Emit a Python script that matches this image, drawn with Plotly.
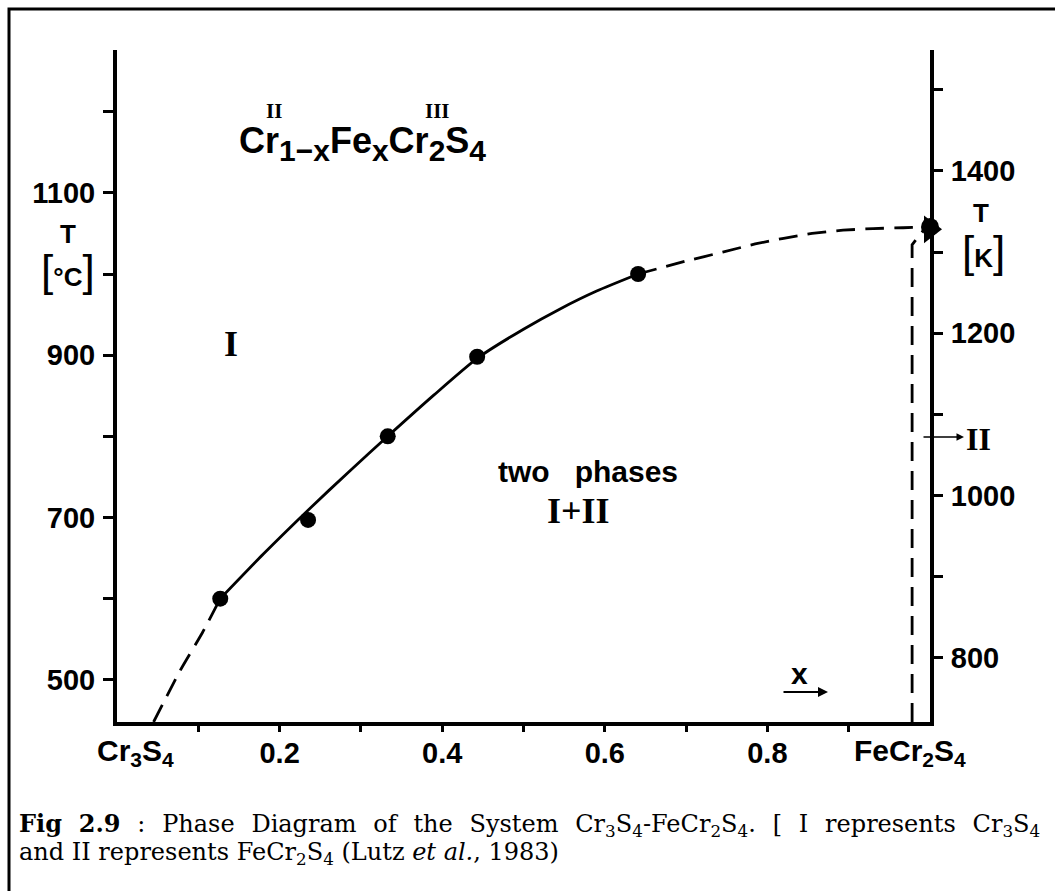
import plotly.graph_objects as go

# ---------------- data ----------------
# measured points: composition x vs temperature (deg C)
pts_x = [0.127, 0.235, 0.333, 0.443, 0.641]
pts_T = [600, 697, 800, 898, 1000]

# end-member transition point (FeCr2S4)
end_x = [1.0]
end_T = [1058]

# solid boundary curve through the measurements
solid_x = [0.127, 0.18, 0.235, 0.287, 0.333, 0.39, 0.443, 0.5, 0.545, 0.59, 0.641]
solid_T = [600, 655, 709, 758, 800, 851, 896, 932, 957, 979, 1000]

# dashed extrapolations
low_dash_x = [0.045, 0.078, 0.105, 0.127]
low_dash_T = [448, 512, 558, 600]
up_dash_x = [0.641, 0.70, 0.745, 0.785, 0.82, 0.855, 0.893, 0.93, 0.967, 1.0]
up_dash_T = [1000, 1016, 1027, 1037, 1044, 1050, 1054, 1056, 1057, 1058]
vert_dash_x = [0.978, 0.978, 0.992]
vert_dash_T = [448, 1036, 1054]

# axes / ticks
x_range = [0, 1]
x_tick_vals = [0.2, 0.4, 0.6, 0.8]
x_tick_text = ["0.2", "0.4", "0.6", "0.8"]
x_minor = [0.1, 0.3, 0.5, 0.7, 0.9]
C_range = [448, 1276]
C_ticks = [500, 700, 900, 1100]
C_minor = [600, 800, 1000, 1200]
K_offset = 273
K_ticks = [800, 1000, 1200, 1400]
K_minor = [900, 1100, 1300, 1500]

# ---------------- layout geometry ----------------
W, H = 1055, 891
L, R, T, B = 117, 125, 50, 169
PW, PH = W - L - R, H - T - B


def px(x):
    return (x - L) / PW


def py(y):
    return (H - B - y) / PH


BLACK = "black"
SANS = "Liberation Sans"
SERIF = "Liberation Serif"
CAPTION = "DejaVu Serif"

fig = go.Figure()

line_style = dict(color=BLACK, width=2.8)
dash_style = dict(color=BLACK, width=2.8, dash="19px,10px")

fig.add_trace(go.Scatter(x=solid_x, y=solid_T, mode="lines", line=dict(**line_style, shape="spline", smoothing=0.6),
                         showlegend=False, cliponaxis=False))
fig.add_trace(go.Scatter(x=low_dash_x, y=low_dash_T, mode="lines", line=dict(**dash_style, shape="spline", smoothing=0.5),
                         showlegend=False, cliponaxis=False))
fig.add_trace(go.Scatter(x=up_dash_x, y=up_dash_T, mode="lines", line=dict(**dash_style, shape="spline", smoothing=0.3),
                         showlegend=False, cliponaxis=False))
fig.add_trace(go.Scatter(x=vert_dash_x, y=vert_dash_T, mode="lines", line=dict(**dash_style),
                         showlegend=False, cliponaxis=False))
fig.add_trace(go.Scatter(x=pts_x, y=pts_T, mode="markers", marker=dict(color=BLACK, size=16, symbol="circle"),
                         showlegend=False, cliponaxis=False))
fig.add_trace(go.Scatter(x=end_x, y=[t - 3 for t in end_T], mode="markers",
                         marker=dict(color=BLACK, size=24, symbol="triangle-right"),
                         showlegend=False, cliponaxis=False))
fig.add_trace(go.Scatter(x=end_x, y=end_T, mode="markers", marker=dict(color=BLACK, size=18, symbol="circle"),
                         showlegend=False, cliponaxis=False))
# invisible trace to activate the Kelvin axis
fig.add_trace(go.Scatter(x=[0.5], y=[1000], yaxis="y2", mode="markers", marker=dict(opacity=0),
                         showlegend=False, hoverinfo="skip"))

tickfont = dict(family=SANS, size=29, color=BLACK, weight="bold")

fig.update_layout(
    width=W, height=H,
    margin=dict(l=L, r=R, t=T, b=B),
    paper_bgcolor="white", plot_bgcolor="white",
    xaxis=dict(range=x_range, tickvals=x_tick_vals, ticktext=x_tick_text, ticks="outside",
               ticklen=6, tickwidth=3, tickcolor=BLACK, showgrid=False, zeroline=False,
               showline=True, linewidth=4, linecolor=BLACK, tickfont=tickfont, ticklabelstandoff=-4,
               minor=dict(tickvals=x_minor, ticks="outside", ticklen=6, tickwidth=3, tickcolor=BLACK,
                          showgrid=False)),
    yaxis=dict(range=C_range, tickvals=C_ticks, ticks="outside", ticklen=10, tickwidth=3,
               tickcolor=BLACK, showgrid=False, zeroline=False, showline=True, linewidth=4,
               linecolor=BLACK, tickfont=tickfont, ticklabelstandoff=2,
               minor=dict(tickvals=C_minor, ticks="outside", ticklen=10, tickwidth=3, tickcolor=BLACK,
                          showgrid=False)),
    yaxis2=dict(range=[C_range[0] + K_offset, C_range[1] + K_offset], overlaying="y", side="right",
                anchor="x", tickvals=K_ticks, ticks="outside", ticklen=9, tickwidth=3, tickcolor=BLACK,
                showgrid=False, zeroline=False, showline=True, linewidth=4, linecolor=BLACK,
                tickfont=tickfont, ticklabelstandoff=2,
                minor=dict(tickvals=K_minor, ticks="outside", ticklen=9, tickwidth=3, tickcolor=BLACK,
                           showgrid=False)),
)

ann = []


def text(x, y, s, size, family=SANS, weight="bold", xanchor="center", yanchor="middle"):
    ann.append(dict(x=px(x), y=py(y), xref="paper", yref="paper", text=s, showarrow=False,
                    xanchor=xanchor, yanchor=yanchor,
                    font=dict(family=family, size=size, color=BLACK, weight=weight)))


def arrow(x0, x1, y, width):
    ann.append(dict(x=px(x1), y=py(y), ax=-(x1 - x0), ay=0, xref="paper", yref="paper",
                    axref="pixel", ayref="pixel", showarrow=True, arrowhead=2, arrowsize=1,
                    arrowwidth=width, arrowcolor=BLACK, text=""))


BIG = "<span style='font-size:44px;font-weight:normal'>"


def sub(s, size=30):
    return "<sub><span style='font-size:%dpx'>%s</span></sub>" % (size, s)


# formula and oxidation states
text(237, 144, "Cr" + sub("1\u2212x") + "Fe" + sub("x") + "Cr" + sub("2") + "S" + sub("4"), 36, xanchor="left")
text(274, 111, "II", 21, family=SERIF)
text(437, 111, "III", 21, family=SERIF)

# axis titles
text(68, 234, "T", 26)
text(68, 270, BIG + "[</span>\u00b0C" + BIG + "]</span>", 26)
text(981, 213, "T", 26)
text(983, 251, BIG + "[</span>K" + BIG + "]</span>", 26)

# phase labels
text(231, 344, "I", 36, family=SERIF)
text(588, 471, "two&nbsp;&nbsp;&nbsp;phases", 30)
text(578, 511, "I+II", 36, family=SERIF)

# end member labels of the x axis
text(135, 752, "Cr<sub>3</sub>S<sub>4</sub>", 30)
text(910, 752, "FeCr<sub>2</sub>S<sub>4</sub>", 30)

# x arrow
text(799, 673, "x", 30)
arrow(782, 828, 692, 2)

# II arrow on the right axis
arrow(922, 964, 437, 1.5)
text(964, 439, "II", 32, family=SERIF, xanchor="left")

# caption (first line justified to the full width, as in the reference)
SEP = "\u2002\u2009"
line1 = SEP.join(["<b>Fig", "2.9</b>", ":", "Phase", "Diagram", "of", "the", "System",
                  "Cr<sub>3</sub>S<sub>4</sub>-FeCr<sub>2</sub>S<sub>4</sub>.", "[", "I", "represents",
                  "Cr<sub>3</sub>S<sub>4</sub>"])
text(17, 825, line1, 24, family=CAPTION, weight="normal", xanchor="left")
text(17, 853, "and II represents FeCr<sub>2</sub>S<sub>4</sub> (Lutz <i>et al.</i>, 1983)", 24,
     family=CAPTION, weight="normal", xanchor="left")

fig.update_layout(annotations=ann)

# outer frame (only top and left edges are inside the picture)
fig.add_shape(type="rect", xref="paper", yref="paper", x0=px(9), x1=px(1070), y0=py(905), y1=py(9),
              line=dict(color=BLACK, width=3), fillcolor="rgba(0,0,0,0)", layer="above")

fig.write_html("out.html")
